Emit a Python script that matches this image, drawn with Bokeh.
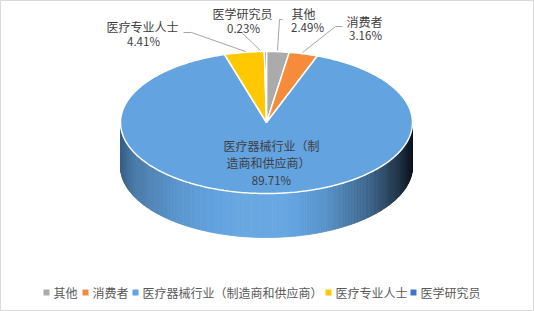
import numpy as np
from bokeh.plotting import figure
from bokeh.models import Range1d
from bokeh.core.properties import value
from bokeh.embed import file_html
from bokeh.resources import INLINE

# ---------------- data ----------------
categories = ["其他", "消费者", "医疗器械行业（制造商和供应商）", "医疗专业人士", "医学研究员"]
shares = [2.49, 3.16, 89.71, 4.41, 0.23]
pct_labels = ["2.49%", "3.16%", "89.71%", "4.41%", "0.23%"]
colors = ["#ABABAB", "#F68B3C", "#62A3E0", "#FFC800", "#4472C4"]

# ---------------- layout ----------------
W, H = 534, 311
cx, cy, rx, ry, depth = 266.0, 122.0, 146.0, 71.0, 44.0
FONT = "Noto Sans CJK SC"
TXT = "#404040"

p = figure(width=W, height=H, x_range=Range1d(0, W), y_range=Range1d(H, 0),
           output_backend="svg", toolbar_location=None, min_border=0,
           x_axis_location=None, y_axis_location=None)
p.grid.visible = False
p.outline_line_color = "#D9D9D9"
p.background_fill_color = "white"
p.border_fill_color = "white"

vals = np.array(shares, dtype=float)
frac = vals / vals.sum()
ends = np.cumsum(frac) * 2 * np.pi
starts = ends - frac * 2 * np.pi


def pt(theta, dy=0.0):
    return cx + rx * np.sin(theta), cy - ry * np.cos(theta) + dy


def hex2rgb(h):
    h = h.lstrip("#")
    return np.array([int(h[i:i + 2], 16) for i in (0, 2, 4)], dtype=float)


def rgb2hex(c):
    c = np.clip(np.round(c), 0, 255).astype(int)
    return "#%02x%02x%02x" % tuple(c)


# shading of the cylinder side along x
u_pts = [-1.0, -0.9, -0.6, -0.2, 0.1, 0.4, 0.7, 0.9, 1.0]
f_pts = [0.60, 0.76, 0.92, 1.04, 1.04, 0.90, 0.62, 0.32, 0.12]

# ---------------- side (front half) ----------------
N = 240
th = np.linspace(np.pi / 2, 3 * np.pi / 2, N + 1)
sx, sy, scol = [], [], []
for a, b in zip(th[:-1], th[1:]):
    m = 0.5 * (a + b)
    k = int(np.searchsorted(ends, m % (2 * np.pi)))
    k = min(k, len(colors) - 1)
    u = np.sin(m)
    f = np.interp(u, u_pts, f_pts)
    base = hex2rgb(colors[k])
    c = base * f if f <= 1 else base + (255 - base) * (f - 1)
    xa, ya = pt(a)
    xb, yb = pt(b)
    sx.append([xa, xb, xb, xa])
    sy.append([ya, yb, yb + depth, ya + depth])
    scol.append(rgb2hex(c))
p.patches(sx, sy, fill_color=scol, line_color=scol, line_width=0.8)

# ---------------- top face ----------------
tx, ty = [], []
for s, e in zip(starts, ends):
    n = max(4, int((e - s) / (2 * np.pi) * 360))
    t = np.linspace(s, e, n + 1)
    xs, ys = pt(t)
    tx.append([cx] + list(xs))
    ty.append([cy] + list(ys))
p.patches(tx, ty, fill_color=colors, line_color="white", line_width=1.5)

# ---------------- leader lines ----------------
lead_x = [[282, 279, 277], [342, 335, 302], [183, 191, 245], [242, 260]]
lead_y = [[19, 19, 50], [26, 26, 52], [32, 32, 51], [33, 50]]
p.multi_line(lead_x, lead_y, line_color="#A6A6A6", line_width=1)

# ---------------- data labels ----------------
lab_x = [303, 364, 142, 242]
lab_y = [13, 21, 26, 13]
lab_idx = [0, 1, 3, 4]
p.text(x=lab_x, y=lab_y, text=[categories[i] for i in lab_idx],
       text_font=value(FONT), text_font_size="12px", text_color=TXT,
       text_align="center", text_baseline="middle")
p.text(x=[307, 365, 143, 243], y=[26, 34, 40, 27], text=[pct_labels[i] for i in lab_idx],
       text_font=value(FONT), text_font_size="11.5px", text_color=TXT,
       text_align="center", text_baseline="middle")

big = categories[2]
p.text(x=[271, 268], y=[145, 162], text=[big[:8], big[8:]],
       text_font=value(FONT), text_font_size="12px", text_color=TXT,
       text_align="center", text_baseline="middle")
p.text(x=[271], y=[179], text=[pct_labels[2]],
       text_font=value(FONT), text_font_size="11.5px", text_color=TXT,
       text_align="center", text_baseline="middle")

# ---------------- legend ----------------
leg_sq_x = [46, 85, 135, 328, 413]
leg_y = 292
p.scatter(x=leg_sq_x, y=[leg_y] * 5, marker="square", size=6,
          fill_color=colors, line_color=None)
p.text(x=[v + 7 for v in leg_sq_x], y=[leg_y] * 5, text=categories,
       text_font=value(FONT), text_font_size="12px", text_color="#595959",
       text_align="left", text_baseline="middle")

open("out.html", "w").write(file_html(p, INLINE))
